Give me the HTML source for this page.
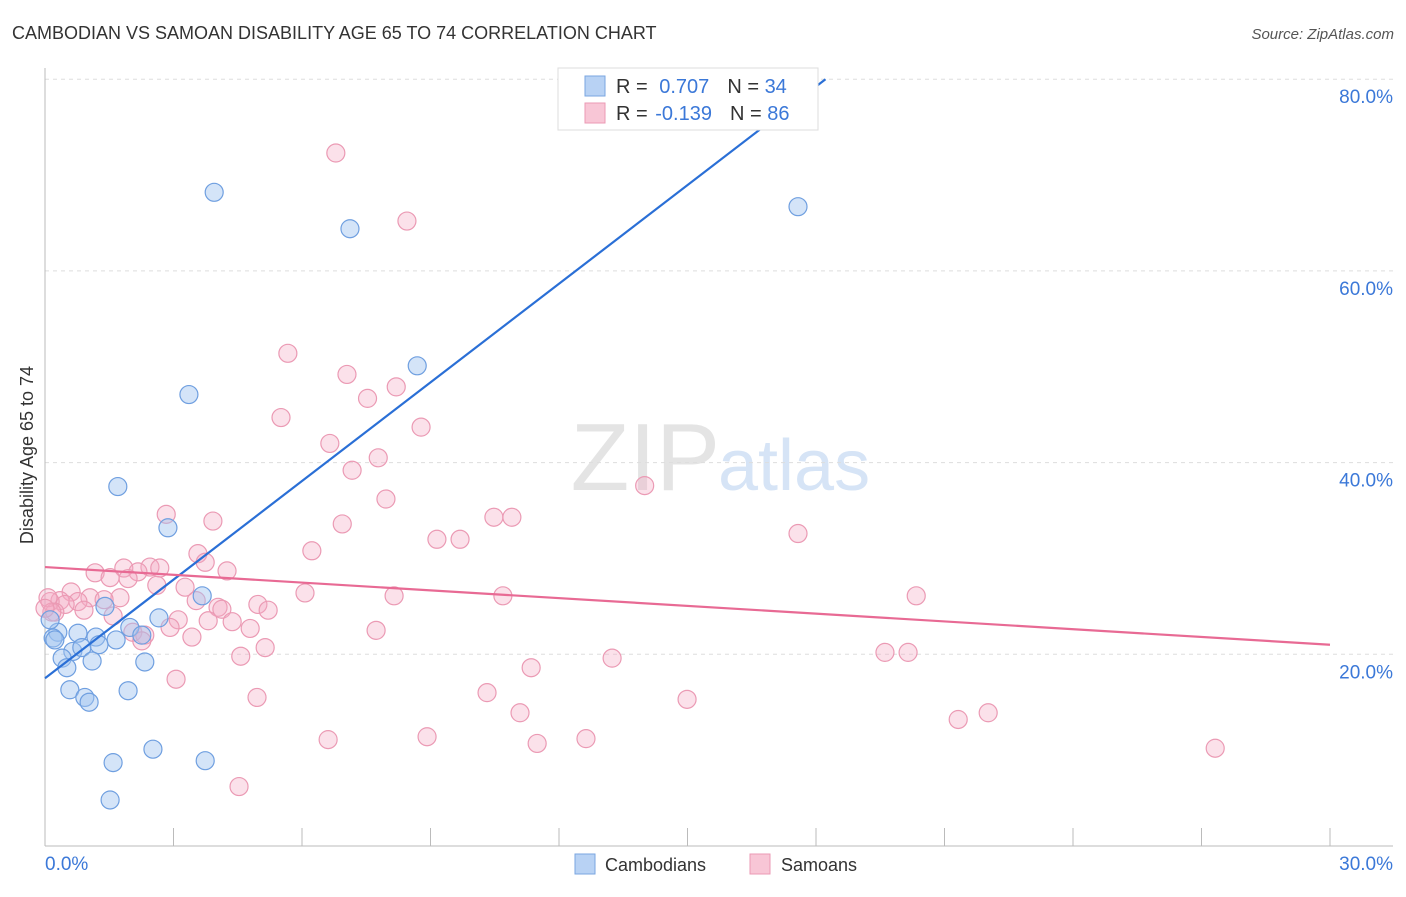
<!DOCTYPE html>
<html><head><meta charset="utf-8"><style>
body{margin:0;background:#fff;font-family:"Liberation Sans",sans-serif;}
svg text{font-family:"Liberation Sans",sans-serif;}
</style></head><body>
<svg id="chart" width="1406" height="892" xmlns="http://www.w3.org/2000/svg">
<text x="12" y="39" font-size="18" fill="#333">CAMBODIAN VS SAMOAN DISABILITY AGE 65 TO 74 CORRELATION CHART</text>
<text x="1394" y="39" font-size="15" fill="#555" font-style="italic" text-anchor="end">Source: ZipAtlas.com</text>
<text x="720" y="490" font-size="96" fill="#e4e4e4" text-anchor="end" font-family="Liberation Serif">ZIP</text>
<text x="718" y="490" font-size="72" fill="#d6e4f6">atlas</text>
<g id="grid"></g>
<g id="axes"></g>
<g id="points"></g>
<g id="trends"></g>
<text transform="translate(33,455) rotate(-90)" font-size="18" fill="#333" text-anchor="middle">Disability Age 65 to 74</text>
<g>
<rect x="558" y="68" width="260" height="62" fill="#fff" stroke="#ddd"/>
<rect x="585" y="76" width="20" height="20" fill="#b8d2f4" stroke="#7aa6e0"/>
<rect x="585" y="103" width="20" height="20" fill="#f8c6d6" stroke="#eb9ab4"/>
<text x="616" y="93" font-size="20" fill="#333">R = <tspan fill="#3b78d8" dx="6">0.707</tspan><tspan fill="#333" dx="18">N = </tspan><tspan fill="#3b78d8">34</tspan></text>
<text x="616" y="120" font-size="20" fill="#333">R = <tspan fill="#3b78d8" dx="2">-0.139</tspan><tspan fill="#333" dx="18">N = </tspan><tspan fill="#3b78d8">86</tspan></text>
</g>
<g>
<rect x="575" y="854" width="20" height="20" fill="#b8d2f4" stroke="#7aa6e0"/>
<text x="605" y="871" font-size="18" fill="#333">Cambodians</text>
<rect x="750" y="854" width="20" height="20" fill="#f8c6d6" stroke="#eb9ab4"/>
<text x="781" y="871" font-size="18" fill="#333">Samoans</text>
</g>
</svg>
<script>
const yTicks=[20,40,60,80];
const xTickLabels=["0.0%","30.0%"];
const blueX=[3.95,7.12,17.58,8.69,3.36,1.70,2.87,3.67,2.66,1.40,1.98,2.26,1.66,1.19,1.26,0.77,0.30,0.19,0.23,0.65,0.86,0.40,1.10,2.33,0.51,0.58,1.94,0.93,1.03,2.52,1.59,3.74,1.52,0.12];
const blueY=[68.2,64.4,66.7,50.1,47.1,37.5,33.2,26.1,23.8,25.0,22.8,22.0,21.5,21.8,21.0,22.2,22.3,21.7,21.5,20.3,20.7,19.6,19.3,19.2,18.6,16.3,16.2,15.5,15.0,10.1,8.7,8.9,4.8,23.6];
const pinkX=[6.79,8.45,5.67,7.05,8.2,7.53,5.51,8.78,6.65,7.78,7.17,14.0,7.96,2.83,3.92,10.48,10.9,6.94,17.58,9.15,9.69,6.23,3.57,3.74,2.45,1.84,2.68,1.17,4.25,2.17,1.52,1.94,2.61,3.27,0.61,6.07,8.15,10.69,20.34,1.75,1.05,1.38,0.35,0.77,0.47,0.12,3.53,4.97,0.91,4.04,4.13,5.21,0.23,1.59,3.11,3.81,4.37,4.79,7.73,2.92,2.05,2.33,3.43,2.26,5.14,4.57,19.61,20.15,13.24,11.35,3.06,10.32,4.95,14.99,11.09,21.32,22.02,6.61,8.92,11.49,12.63,27.32,4.53,0.07,0.16,0.0];
const pinkY=[72.3,65.2,51.4,49.2,47.9,46.7,44.7,43.7,42.0,40.5,39.2,37.6,36.2,34.6,33.9,34.3,34.3,33.6,32.6,32.0,32.0,30.8,30.5,29.6,29.1,29.0,29.0,28.5,28.7,28.6,28.0,27.9,27.2,27.0,26.5,26.4,26.1,26.1,26.1,25.9,25.9,25.7,25.6,25.5,25.2,25.5,25.6,25.2,24.6,24.9,24.7,24.6,24.4,24.0,23.6,23.5,23.4,22.7,22.5,22.8,22.3,22.0,21.8,21.4,20.7,19.8,20.2,20.2,19.6,18.6,17.4,16.0,15.5,15.3,13.9,13.2,13.9,11.1,11.4,10.7,11.2,10.2,6.2,25.9,24.4,24.8];
const blueTrend=[17.5,3.43];
const pinkTrend=[29.1,-0.27];
const NS="http://www.w3.org/2000/svg";
const X0=45,X1=1330,Y0=846,YPER=9.585;
function sx(v){return X0+v*(X1-X0)/30;}
function sy(v){return Y0-v*YPER;}
function mk(tag,attrs,parent){const e=document.createElementNS(NS,tag);for(const k in attrs)e.setAttribute(k,attrs[k]);document.getElementById(parent).appendChild(e);return e;}
yTicks.forEach(t=>{
 const l=mk('line',{x1:X0,x2:1393,y1:sy(t),y2:sy(t),stroke:'#ddd','stroke-dasharray':'4,4'},'grid');
 
 
 const tx=mk('text',{x:1393,y:sy(t)+24,'font-size':19,fill:'#3b78d8','text-anchor':'end'},'grid');
 tx.textContent=t.toFixed(1)+'%';
 
 
});
let a=mk('line',{x1:X0,x2:X0,y1:68,y2:Y0,stroke:'#bbb'},'axes');


a=mk('line',{x1:X0,x2:1393,y1:Y0,y2:Y0,stroke:'#bbb'},'axes');


for(let i=1;i<=10;i++){
 const t=mk('line',{x1:sx(i*3),x2:sx(i*3),y1:828,y2:Y0,stroke:'#bbb'},'axes');
 
 
}
let tl=mk('text',{x:45,y:870,'font-size':19,fill:'#3b78d8'},'axes');tl.textContent=xTickLabels[0];


tl=mk('text',{x:1393,y:870,'font-size':19,fill:'#3b78d8','text-anchor':'end'},'axes');tl.textContent=xTickLabels[1];


pinkX.forEach((v,i)=>{
 const c=mk('circle',{cx:sx(v),cy:sy(pinkY[i]),r:9,fill:'rgba(244,170,195,0.35)',stroke:'#eb9ab4','stroke-width':1.2},'points');
 
 
});
blueX.forEach((v,i)=>{
 const c=mk('circle',{cx:sx(v),cy:sy(blueY[i]),r:9,fill:'rgba(160,196,240,0.45)',stroke:'#6f9fe0','stroke-width':1.2},'points');
 
 
});
const bxEnd=(80-blueTrend[0])/blueTrend[1];
let t=mk('line',{x1:sx(0),y1:sy(blueTrend[0]),x2:sx(bxEnd),y2:sy(80),stroke:'#2a6fd6','stroke-width':2.2},'trends');


t=mk('line',{x1:sx(0),y1:sy(pinkTrend[0]),x2:sx(30),y2:sy(pinkTrend[0]+pinkTrend[1]*30),stroke:'#e86a94','stroke-width':2.2},'trends');


</script>
</body></html>
